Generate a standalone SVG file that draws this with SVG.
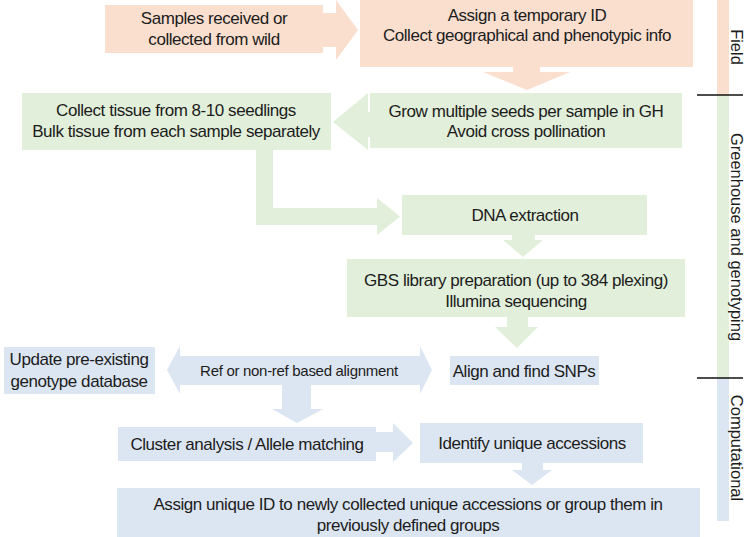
<svg xmlns="http://www.w3.org/2000/svg" width="747" height="537" viewBox="0 0 747 537">
<style>
text{font-family:"Liberation Sans",Arial,sans-serif;font-size:17px;letter-spacing:-0.45px;fill:#1c1c1c;text-anchor:middle;dominant-baseline:central}
.pe{fill:#FADFCF}
.gr{fill:#E2EFDA}
.bl{fill:#DCE6F2}
.sm{font-size:15px;letter-spacing:-0.3px}
.rot{letter-spacing:0;font-size:16.5px}
.sep{stroke:#111;stroke-width:1.3}
</style>
<rect width="747" height="537" fill="#fff"/>
<g id="connectors">
<polygon class="pe" points="322,13 336,13 336,0 358,30 336,60 336,47 322,47"/>
<polygon class="pe" points="513,66 540,66 540,72 570,72 527,90 483,72 513,72"/>
<polygon class="gr" points="371,112 368,112 368,93 333,122 368,150 368,137 371,137"/>
<polygon class="gr" points="256,149 273,149 273,208 377,208 377,198 400,216.5 377,235 377,225 256,225"/>
<polygon class="gr" points="512,234 535,234 535,240 543,240 523,257 503,240 512,240"/>
<polygon class="gr" points="507,316 528,316 528,327 538,327 517,348 495,327 507,327"/>
<polygon class="bl" points="167,370 180,346 180,356 420,356 420,346 432,370 420,394 420,385 180,385 180,394"/>
<polygon class="bl" points="282,384 311,384 311,409 323,409 297,423 272,409 282,409"/>
<polygon class="bl" points="375,432 393,432 393,423 413,443 393,462 393,452 375,452"/>
<polygon class="bl" points="522,462 543,462 543,470 552,470 532,485 512,470 522,470"/>
</g>
<g id="lanes">
<rect class="pe" x="717" y="0" width="12" height="95"/>
<rect class="gr" x="717" y="95" width="12" height="283"/>
<rect class="bl" x="717" y="378" width="12" height="143"/>
<line class="sep" x1="697" y1="95" x2="743" y2="95"/>
<line class="sep" x1="697" y1="378" x2="743" y2="378"/>
<text class="rot" transform="translate(737,47) rotate(90)">Field</text>
<text class="rot" transform="translate(737,237) rotate(90)">Greenhouse and genotyping</text>
<text class="rot" transform="translate(737,448) rotate(90)">Computational</text>
</g>
<g id="n1"><rect class="pe" x="105" y="5" width="218" height="48"/><text x="214" y="18">Samples received or</text><text x="214" y="39">collected from wild</text></g>
<g id="n2"><rect class="pe" x="360" y="0" width="333" height="67"/><text x="527" y="15">Assign a temporary ID</text><text x="527" y="35">Collect geographical and phenotypic info</text></g>
<g id="n3"><rect class="gr" x="370" y="93" width="312" height="55"/><text x="526" y="111">Grow multiple seeds per sample in GH</text><text x="526" y="131">Avoid cross pollination</text></g>
<g id="n4"><rect class="gr" x="22" y="93" width="309" height="57"/><text x="176" y="110">Collect tissue from 8-10 seedlings</text><text x="176" y="131">Bulk tissue from each sample separately</text></g>
<g id="n5"><rect class="gr" x="402" y="195" width="245" height="40"/><text x="525" y="215">DNA extraction</text></g>
<g id="n6"><rect class="gr" x="347" y="259" width="338" height="58"/><text x="516" y="280">GBS library preparation (up to 384 plexing)</text><text x="516" y="301">Illumina sequencing</text></g>
<g id="n7"><rect class="bl" x="4" y="347" width="151" height="47"/><text x="79" y="359">Update pre-existing</text><text x="79" y="381">genotype database</text></g>
<g id="n8"><text class="sm" x="299" y="370">Ref or non-ref based alignment</text></g>
<g id="n9"><rect class="bl" x="450" y="356" width="149" height="29"/><text x="524" y="371">Align and find SNPs</text></g>
<g id="n10"><rect class="bl" x="118" y="427" width="258" height="34"/><text x="247" y="444">Cluster analysis / Allele matching</text></g>
<g id="n11"><rect class="bl" x="420" y="423" width="223" height="40"/><text x="532" y="443">Identify unique accessions</text></g>
<g id="n12"><rect class="bl" x="117" y="488" width="583" height="49"/><text x="408" y="504">Assign unique ID to newly collected unique accessions or group them in</text><text x="408" y="525">previously defined groups</text></g>
</svg>
